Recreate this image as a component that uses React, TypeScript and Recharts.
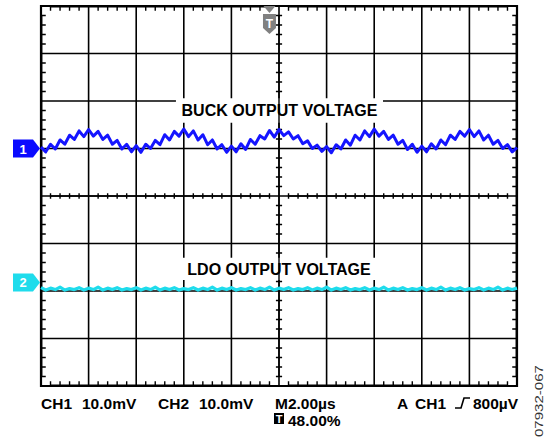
import { ComposedChart, Line, XAxis, YAxis, CartesianGrid, ReferenceArea, ReferenceDot } from 'recharts';

// Scope capture: 2.00 µs/div, 10.0 mV/div, values are screen mV from centre line
const TIME_US = [
  0, 0.2, 0.4, 0.6, 0.8, 1, 1.2, 1.4, 1.6, 1.8,
  2, 2.2, 2.4, 2.6, 2.8, 3, 3.2, 3.4, 3.6, 3.8,
  4, 4.2, 4.4, 4.6, 4.8, 5, 5.2, 5.4, 5.6, 5.8,
  6, 6.2, 6.4, 6.6, 6.8, 7, 7.2, 7.4, 7.6, 7.8,
  8, 8.2, 8.4, 8.6, 8.8, 9, 9.2, 9.4, 9.6, 9.8,
  10, 10.2, 10.4, 10.6, 10.8, 11, 11.2, 11.4, 11.6, 11.8,
  12, 12.2, 12.4, 12.6, 12.8, 13, 13.2, 13.4, 13.6, 13.8,
  14, 14.2, 14.4, 14.6, 14.8, 15, 15.2, 15.4, 15.6, 15.8,
  16, 16.2, 16.4, 16.6, 16.8, 17, 17.2, 17.4, 17.6, 17.8,
  18, 18.2, 18.4, 18.6, 18.8, 19, 19.2, 19.4, 19.6, 19.8,
  20,
];

const BUCK_MV = [
  10.3, 9.3, 10.9, 9.9, 11.8, 10.9, 12.8, 11.9, 13.7, 12.5,
  14.0, 12.6, 13.6, 11.9, 12.8, 10.9, 11.7, 9.9, 10.9, 9.3,
  10.6, 9.2, 10.9, 10.0, 11.7, 10.8, 12.9, 11.8, 13.6, 12.6,
  14.1, 12.5, 13.7, 11.8, 12.9, 10.8, 11.8, 9.9, 10.8, 9.2,
  10.5, 9.3, 11.0, 9.8, 11.9, 10.9, 12.7, 12.0, 13.8, 12.4,
  14.0, 12.7, 13.5, 12.0, 12.7, 11.0, 11.6, 10.0, 10.7, 9.4,
  10.4, 9.1, 10.8, 9.9, 11.8, 10.7, 12.8, 11.8, 13.7, 12.5,
  14.1, 12.6, 13.6, 11.9, 12.8, 10.9, 11.7, 9.8, 10.9, 9.2,
  10.5, 9.3, 11.0, 9.9, 11.8, 10.8, 12.8, 11.9, 13.6, 12.6,
  14.0, 12.5, 13.7, 11.8, 12.8, 10.9, 11.7, 10.0, 10.8, 9.3,
  10.2,
];

const LDO_MV = [
  -19.3, -19.8, -19.4, -19.7, -19.2, -19.8, -19.5, -19.7, -19.3, -19.8,
  -19.4, -19.7, -19.2, -19.8, -19.4, -19.7, -19.3, -19.8, -19.5, -19.7,
  -19.3, -19.8, -19.4, -19.7, -19.2, -19.8, -19.4, -19.7, -19.3, -19.8,
  -19.5, -19.7, -19.3, -19.8, -19.4, -19.7, -19.2, -19.8, -19.4, -19.7,
  -19.3, -19.8, -19.5, -19.7, -19.3, -19.8, -19.4, -19.7, -19.2, -19.8,
  -19.4, -19.7, -19.3, -19.8, -19.5, -19.7, -19.3, -19.8, -19.4, -19.7,
  -19.2, -19.8, -19.4, -19.7, -19.3, -19.8, -19.5, -19.7, -19.3, -19.8,
  -19.4, -19.7, -19.2, -19.8, -19.4, -19.7, -19.3, -19.8, -19.5, -19.7,
  -19.3, -19.8, -19.4, -19.7, -19.2, -19.8, -19.4, -19.7, -19.3, -19.8,
  -19.5, -19.7, -19.3, -19.8, -19.4, -19.7, -19.2, -19.8, -19.4, -19.7,
  -19.4,
];

// graticule
const GRID_T = [2, 4, 6, 8, 10, 12, 14, 16, 18];
const GRID_V = [-30, -20, -10, 0, 10, 20, 30];
const MINOR_T_A = [0.4, 0.8, 1.2, 1.6, 2.4, 2.8, 3.2, 3.6, 4.4, 4.8, 5.2, 5.6, 6.4, 6.8, 7.2, 7.6, 8.4, 8.8, 9.2, 9.6];
const MINOR_T_B = [10.4, 10.8, 11.2, 11.6, 12.4, 12.8, 13.2, 13.6, 14.4, 14.8, 15.2, 15.6, 16.4, 16.8, 17.2, 17.6, 18.4, 18.8, 19.2, 19.6];
const MINOR_V = [
  -38, -36, -34, -32, -28, -26, -24, -22, -18, -16, -14, -12, -8, -6, -4, -2,
  2, 4, 6, 8, 12, 14, 16, 18, 22, 24, 26, 28, 32, 34, 36, 38,
];
// centre-line ticks, minus the ones hidden behind the text boxes
const CENTER_V_TICKS = [
  -38, -36, -34, -32, -28, -26, -24, -22, -18, -12, -8, -6, -4, -2,
  2, 4, 6, 8, 12, 14, 22, 24, 26, 28, 32, 34, 36, 38,
];
const FRAME_T = [0, 20, 20, 0, 0];
const FRAME_V = [40, 40, -40, -40, 40];

const CH1_LEVEL = 10;
const CH2_LEVEL = -18.2;
const TRIGGER_T = 9.6;

const BLUE = '#1515ff';
const CYAN = '#1fdcec';
const GRID = '#000';
const FONT = '"Liberation Sans", Arial, sans-serif';

// tick lengths in axis units (about 4-5 px border ticks, 2.5 px centre ticks)
const EDGE_T = 0.03;
const EDGE_V = 0.15;
const TICK_T = 0.2;
const TICK_V = 1.0;
const CTICK_T = 0.13;
const CTICK_V = 0.6;

const traceData = TIME_US.map((t, i) => ({ t, buck: BUCK_MV[i], ldo: LDO_MV[i] }));
const frameData = FRAME_T.map((t, i) => ({ t, v: FRAME_V[i] }));

// ticks as one continuous polyline per group, walking along the line they sit on
type P = { t: number; v: number };
const edgeVTicks = (ts: number[], base: number, tip: number): P[] =>
  ts.flatMap((t) => [{ t, v: base }, { t, v: tip }, { t, v: base }]);
const edgeHTicks = (vs: number[], base: number, tip: number): P[] =>
  vs.flatMap((v) => [{ t: base, v }, { t: tip, v }, { t: base, v }]);
const crossVTicks = (ts: number[], c: number): P[] =>
  ts.flatMap((t) => [{ t, v: 0 }, { t, v: -c }, { t, v: c }, { t, v: 0 }]);
const crossHTicks = (vs: number[], c: number): P[] =>
  vs.flatMap((v) => [{ t: 10, v }, { t: 10 - c, v }, { t: 10 + c, v }, { t: 10, v }]);

const tickGroups: P[][] = [
  edgeVTicks(MINOR_T_A, 40 - EDGE_V, 40 - TICK_V),
  edgeVTicks(MINOR_T_B, 40 - EDGE_V, 40 - TICK_V),
  edgeVTicks(MINOR_T_A, -40 + EDGE_V, -40 + TICK_V),
  edgeVTicks(MINOR_T_B, -40 + EDGE_V, -40 + TICK_V),
  crossVTicks(MINOR_T_A, CTICK_V),
  crossVTicks(MINOR_T_B, CTICK_V),
  edgeHTicks(MINOR_V, EDGE_T, TICK_T),
  edgeHTicks(MINOR_V, 20 - EDGE_T, 20 - TICK_T),
  crossHTicks(CENTER_V_TICKS, CTICK_T),
];

function ChannelMarker(color: string, label: string) {
  return (p: any) => {
    const { cx, cy } = p;
    const pts = `${cx - 28},${cy - 9} ${cx - 8},${cy - 9} ${cx - 1},${cy} ${cx - 8},${cy + 9} ${cx - 28},${cy + 9}`;
    return (
      <g>
        <polygon points={pts} fill={color} />
        <text x={cx - 18} y={cy + 5} textAnchor="middle" fill="#fff" fontSize={13} fontWeight="bold">
          {label}
        </text>
      </g>
    );
  };
}

const triggerMarker = (p: any) => {
  const { cx, cy } = p;
  return (
    <g>
      <polygon points={`${cx - 6},${cy} ${cx + 6},${cy} ${cx},${cy + 7}`} fill="#808080" />
      <polygon
        points={`${cx - 6.5},${cy + 8} ${cx + 6.5},${cy + 8} ${cx + 6.5},${cy + 22} ${cx},${cy + 28} ${cx - 6.5},${cy + 22}`}
        fill="#808080"
      />
      <text x={cx} y={cy + 22} textAnchor="middle" fill="#fff" fontSize={12} fontWeight="bold">
        T
      </text>
    </g>
  );
};

export default function App() {
  const txt = { fontSize: 15.5, fontWeight: 'bold' as const, fill: '#000' };
  return (
    <div style={{ position: 'absolute', left: 0, top: 0, width: 551, height: 438, background: '#fff', fontFamily: FONT }}>
      <ComposedChart
        width={551}
        height={438}
        data={traceData}
        margin={{ top: 6, right: 34, bottom: 52, left: 41 }}
        style={{ fontFamily: FONT }}
      >
        <XAxis type="number" dataKey="t" domain={[0, 20]} hide />
        <YAxis type="number" domain={[-40, 40]} hide />
        <CartesianGrid horizontalValues={GRID_V} verticalValues={GRID_T} stroke={GRID} strokeWidth={1.6} strokeOpacity={1} />
        <ReferenceArea
          x1={5.67}
          x2={14.37}
          y1={15.4}
          y2={20.6}
          fill="#fff"
          fillOpacity={1}
          stroke="none"
          label={{ value: 'BUCK OUTPUT VOLTAGE', position: 'center', fontSize: 16, fontWeight: 'bold', fill: '#000' }}
        />
        <ReferenceArea
          x1={5.84}
          x2={14.16}
          y1={-17.7}
          y2={-13.0}
          fill="#fff"
          fillOpacity={1}
          stroke="none"
          label={{ value: 'LDO OUTPUT VOLTAGE', position: 'center', fontSize: 16, fontWeight: 'bold', fill: '#000' }}
        />
        {tickGroups.map((g, i) => (
          <Line
            key={`ticks${i}`}
            data={g}
            dataKey="v"
            stroke={GRID}
            strokeWidth={1.4}
            dot={false}
            activeDot={false}
            isAnimationActive={false}
            legendType="none"
          />
        ))}
        <Line
          data={frameData}
          dataKey="v"
          stroke="#000"
          strokeWidth={2.2}
          strokeLinecap="square"
          dot={false}
          activeDot={false}
          isAnimationActive={false}
          legendType="none"
        />
        <Line dataKey="ldo" stroke={CYAN} strokeWidth={3.2} dot={false} isAnimationActive={false} strokeLinejoin="round" />
        <Line dataKey="buck" stroke={BLUE} strokeWidth={3} dot={false} isAnimationActive={false} strokeLinejoin="round" />
        <ReferenceDot x={0} y={CH1_LEVEL} ifOverflow="visible" shape={ChannelMarker('#0a0aff', '1')} />
        <ReferenceDot x={0} y={CH2_LEVEL} ifOverflow="visible" shape={ChannelMarker(CYAN, '2')} />
        <ReferenceDot x={TRIGGER_T} y={40} ifOverflow="visible" shape={triggerMarker} />
      </ComposedChart>
      <svg width={551} height={438} style={{ position: 'absolute', left: 0, top: 0, pointerEvents: 'none', fontFamily: FONT }}>
        <text x={41} y={408.5} {...txt}>CH1</text>
        <text x={82} y={408.5} {...txt}>10.0mV</text>
        <text x={158} y={408.5} {...txt}>CH2</text>
        <text x={199} y={408.5} {...txt}>10.0mV</text>
        <text x={275} y={408.5} {...txt}>M2.00µs</text>
        <text x={397} y={408.5} {...txt}>A</text>
        <text x={415} y={408.5} {...txt}>CH1</text>
        <path d="M455,408 L461,408 L464,398 L470,398" fill="none" stroke="#000" strokeWidth={1.6} />
        <text x={473} y={408.5} {...txt}>800µV</text>
        <rect x={274} y={413} width={10} height={11} fill="#000" />
        <text x={279} y={422.5} textAnchor="middle" fill="#fff" fontSize={11} fontWeight="bold">T</text>
        <text x={288} y={425.5} {...txt}>48.00%</text>
        <text
          x={0}
          y={0}
          transform="translate(543 401) rotate(-90)"
          textAnchor="middle"
          fontSize={10}
          fill="#333"
          textLength={72}
          lengthAdjust="spacingAndGlyphs"
        >
          07932-067
        </text>
      </svg>
    </div>
  );
}
